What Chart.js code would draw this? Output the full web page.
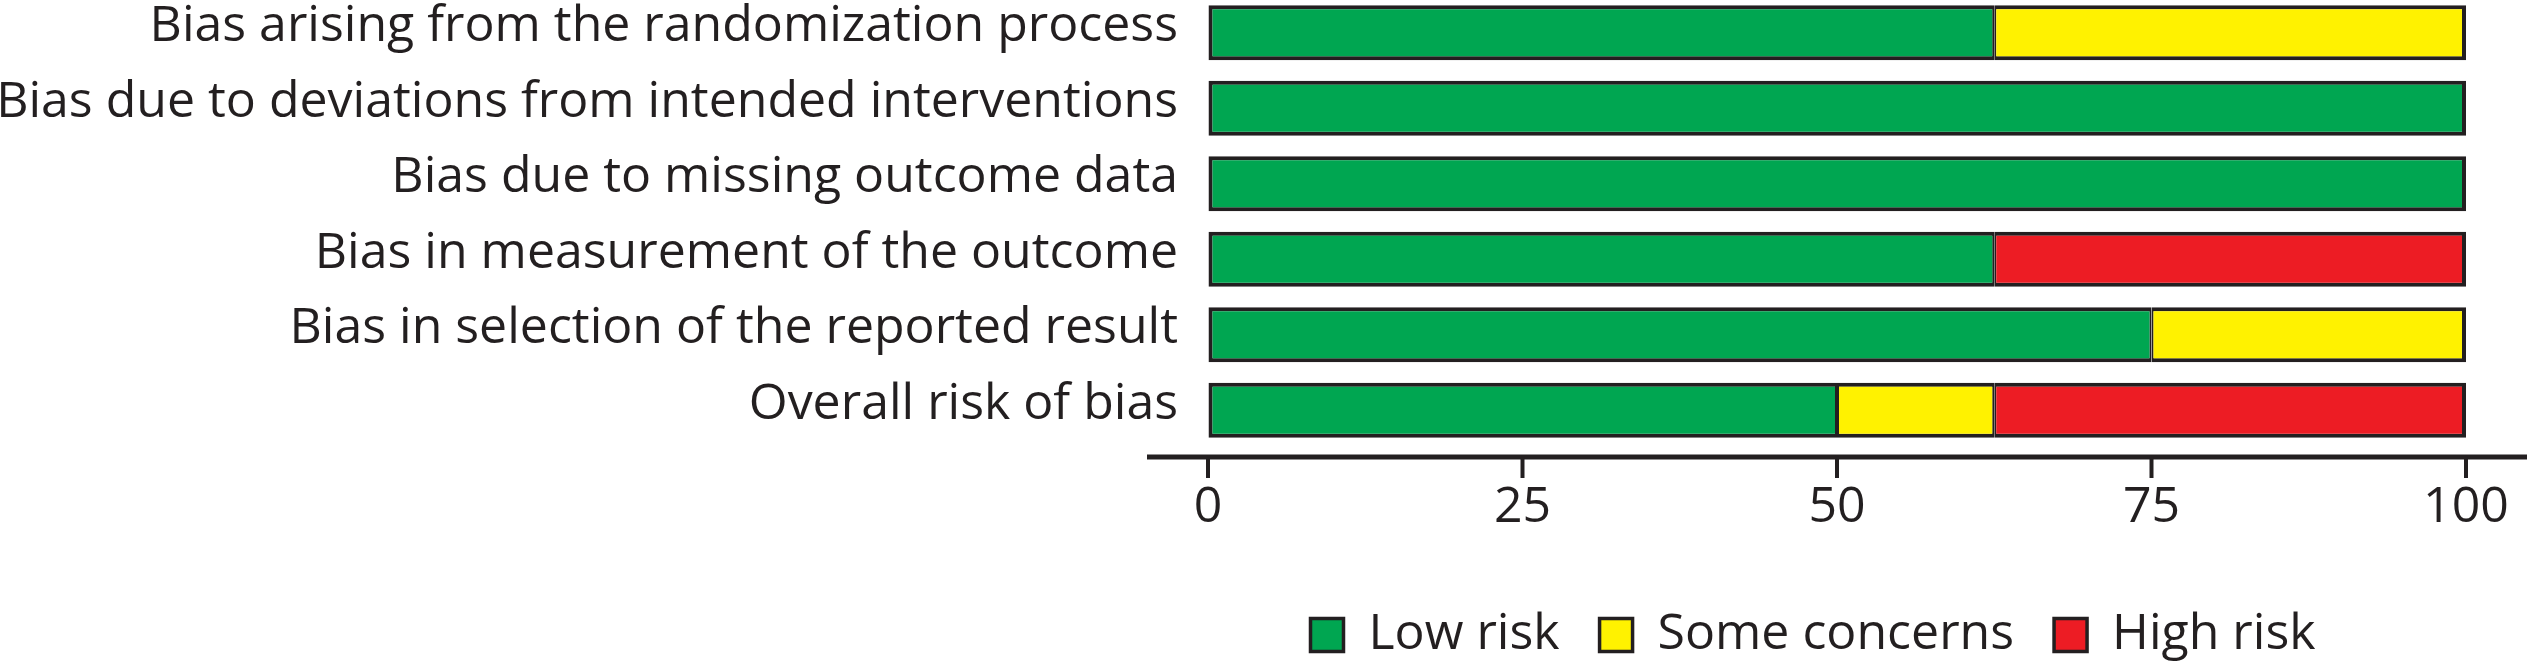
<!DOCTYPE html>
<html>
<head>
<meta charset="utf-8">
<script src="https://cdn.jsdelivr.net/npm/chart.js@4.4.0/dist/chart.umd.min.js"></script>
<style>
  html, body { margin: 0; padding: 0; background: #fff; overflow: hidden; }
  #wrap { position: relative; width: 2527px; height: 663px; overflow: hidden; }
  #chart { position: absolute; left: 0; top: -5px; }
</style>
</head>
<body>
<div id="wrap"><canvas id="chart" width="2527" height="680"></canvas></div>
<script>
const domains = [
    'Bias arising from the randomization process',
    'Bias due to deviations from intended interventions',
    'Bias due to missing outcome data',
    'Bias in measurement of the outcome',
    'Bias in selection of the reported result',
    'Overall risk of bias',
];
const lowRisk = [62.5, 100, 100, 62.5, 75, 50];
const someConcerns = [37.5, null, null, null, 25, 12.5];
const highRisk = [null, null, null, 37.5, null, 37.5];
const xTicks = [0, 25, 50, 75, 100];

const ink = '#231F20';
const fontFamily = "'Open Sans', sans-serif";
const series = [lowRisk, someConcerns, highRisk];

// axis line runs past the data range, as in the original figure
const axisLine = {
    id: 'axisLine',
    afterUpdate(chart) {
        // legend sits a little left of the plot centre
        const lg = chart.legend;
        if (lg) {
            lg.left -= 24;
            lg.right -= 24;
        }
    },
    afterDraw(chart) {
        const ctx = chart.ctx;
        const area = chart.chartArea;
        const x = chart.scales.x;
        const y0 = area.bottom + 9;
        ctx.save();
        ctx.strokeStyle = ink;
        ctx.lineWidth = 5;
        ctx.beginPath();
        ctx.moveTo(area.left - 61, y0);
        ctx.lineTo(chart.width, y0);
        ctx.stroke();
        ctx.lineWidth = 4;
        x.ticks.forEach(function (t) {
            const px = x.getPixelForValue(t.value);
            ctx.beginPath();
            ctx.moveTo(px, y0);
            ctx.lineTo(px, y0 + 21);
            ctx.stroke();
        });
        ctx.restore();
    },
};

// 4px outline round each whole bar, 4px divider between segments
function segBorder(ctx) {
    const i = ctx.dataIndex;
    const d = ctx.datasetIndex;
    let first = true;
    let last = true;
    for (let k = 0; k < series.length; k++) {
        if (series[k][i] == null) continue;
        if (k < d) first = false;
        if (k > d) last = false;
    }
    return { top: 4, bottom: 4, left: first ? 4 : 2, right: last ? 4 : 2 };
}

const barStyle = {
    borderColor: ink,
    borderWidth: segBorder,
    borderSkipped: false,
    barPercentage: 0.73,
    categoryPercentage: 1,
};

new Chart(document.getElementById('chart'), {
    type: 'bar',
    data: {
        labels: domains,
        datasets: [
            { label: 'Low risk', data: lowRisk, backgroundColor: '#00A651', ...barStyle },
            { label: 'Some concerns', data: someConcerns, backgroundColor: '#FFF200', ...barStyle },
            { label: 'High risk', data: highRisk, backgroundColor: '#ED1C24', ...barStyle },
        ],
    },
    plugins: [axisLine],
    options: {
        indexAxis: 'y',
        responsive: false,
        devicePixelRatio: 1,
        animation: false,
        layout: { padding: { left: 0, right: 61, top: 0, bottom: 5 } },
        plugins: {
            tooltip: { enabled: false },
            legend: {
                position: 'bottom',
                fullSize: false,
                labels: {
                    color: ink,
                    boxWidth: 33,
                    boxHeight: 33,
                    padding: 40,
                    font: { family: fontFamily, size: 50 },
                },
            },
        },
        scales: {
            x: {
                stacked: true,
                min: 0,
                max: 100,
                afterBuildTicks(scale) {
                    scale.ticks = xTicks.map(function (v) {
                        return { value: v };
                    });
                },
                afterFit(scale) {
                    scale.height = 122;
                },
                border: { display: false },
                grid: {
                    drawOnChartArea: false,
                    drawTicks: true,
                    tickLength: 28,
                    color: 'rgba(0,0,0,0)',
                },
                ticks: {
                    color: ink,
                    padding: 2,
                    maxRotation: 0,
                    font: { family: fontFamily, size: 50 },
                },
            },
            y: {
                stacked: true,
                afterFit(scale) {
                    scale.width = 1208;
                    scale.paddingTop = 0;
                    scale.paddingBottom = 0;
                },
                border: { display: false },
                grid: { display: false },
                ticks: {
                    color: ink,
                    padding: 22,
                    labelOffset: -6,
                    font: { family: fontFamily, size: 50 },
                },
            },
        },
    },
});
</script>
</body>
</html>
